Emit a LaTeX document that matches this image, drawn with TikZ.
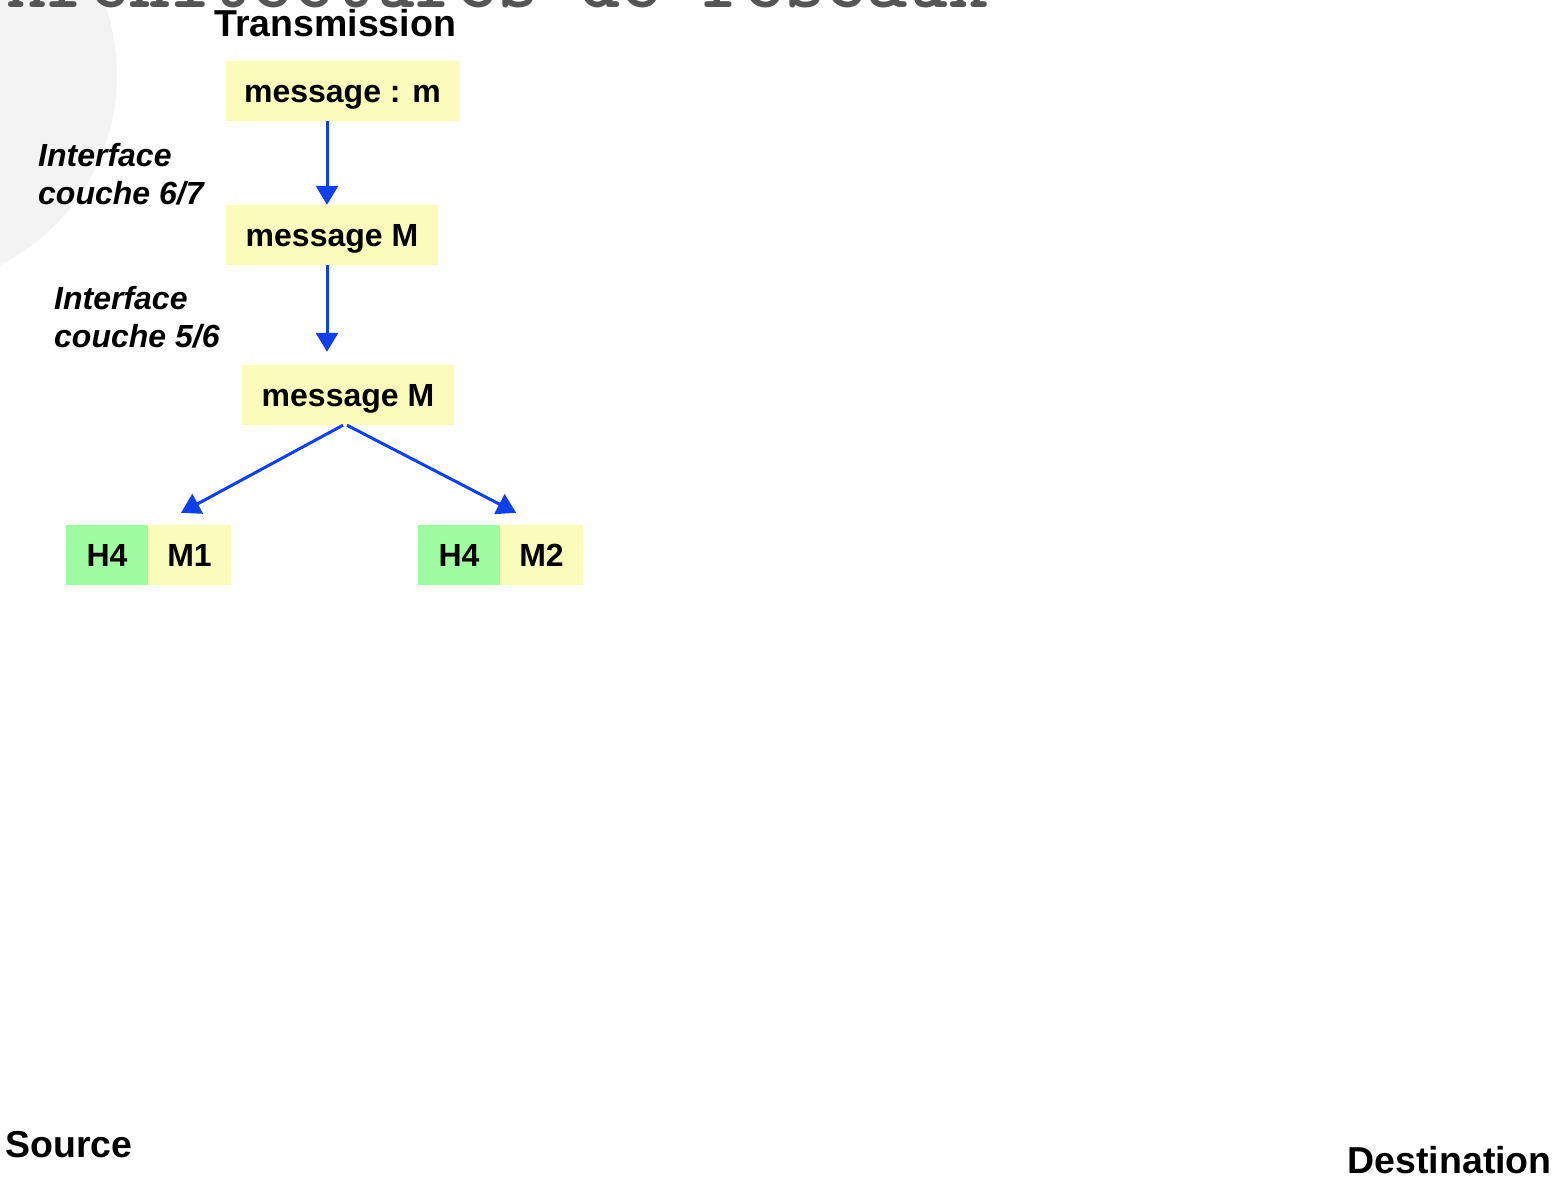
\documentclass[tikz,border=0pt]{standalone}
\usepackage{fontspec}
\setmainfont{Liberation Sans}
\usetikzlibrary{arrows.meta,calc}
\definecolor{boxyellow}{RGB}{251,251,187}
\definecolor{boxgreen}{RGB}{160,252,160}
\definecolor{arrowblue}{RGB}{16,64,232}
\definecolor{circlegray}{RGB}{243,243,243}
\definecolor{titlegray}{RGB}{85,85,85}
\tikzset{
  msgbox/.style={rectangle, fill=boxyellow, inner sep=0pt, minimum height=60pt,
    text height=22pt, text depth=0pt,
    font=\fontsize{32}{38}\selectfont\bfseries},
  hdrbox/.style={msgbox, fill=boxgreen},
  link/.style={draw=arrowblue, line width=3pt, -{Triangle[width=22pt,length=19pt]}},
  iflabel/.style={inner sep=0pt, anchor=north west, align=left,
    font=\fontsize{32}{38}\selectfont\bfseries\itshape},
  endlabel/.style={inner sep=0pt, font=\fontsize{37.5}{40}\selectfont\bfseries}
}
\begin{document}
\begin{tikzpicture}[x=1pt,y=-1pt]
\useasboundingbox (0,0) rectangle (1564,1178);
\clip (0,0) rectangle (1564,1178);
\fill[circlegray] (-96,75) circle (213pt);
\node[inner sep=0pt, anchor=base west, text=titlegray,
  font=\fontsize{78}{80}\selectfont\ttfamily\bfseries] (title) at (6,7) {Architectures de réseaux};
\node[endlabel, anchor=base west] (trans) at (214,36) {Transmission};
\node[msgbox, minimum width=233pt] (m1) at (342.5,91) {message : m};
\node[msgbox, minimum width=212pt] (m2) at (332,235) {message M};
\node[msgbox, minimum width=212pt] (m3) at (348,395) {message M};
\node[hdrbox, minimum width=82pt] (h4l) at (107,555) {H4};
\node[msgbox, minimum width=83pt] (m1b) at (189.5,555) {M1};
\node[hdrbox, minimum width=82pt] (h4r) at (459,555) {H4};
\node[msgbox, minimum width=83pt] (m2b) at (541.5,555) {M2};
\node[iflabel] (if67) at (38,143) {Interface\\couche 6/7};
\node[iflabel] (if56) at (54,286.5) {Interface\\couche 5/6};
\node[endlabel, anchor=base west] (src) at (5,1157) {Source};
\node[endlabel, anchor=base east] (dst) at (1552,1173) {Destination};
\draw[link] ([xshift=-15.5pt]m1.south) -- ([xshift=-5pt]m2.north);
\draw[link] ([xshift=-5pt]m2.south) -- ([xshift=-21pt,yshift=13pt]m3.north);
\draw[link] ([xshift=-5pt]m3.south) -- ([xshift=-8.5pt,yshift=12pt]m1b.north);
\draw[link] ([xshift=-1pt]m3.south) -- ([xshift=16pt,yshift=12pt]h4r.north east);
\end{tikzpicture}
\end{document}
